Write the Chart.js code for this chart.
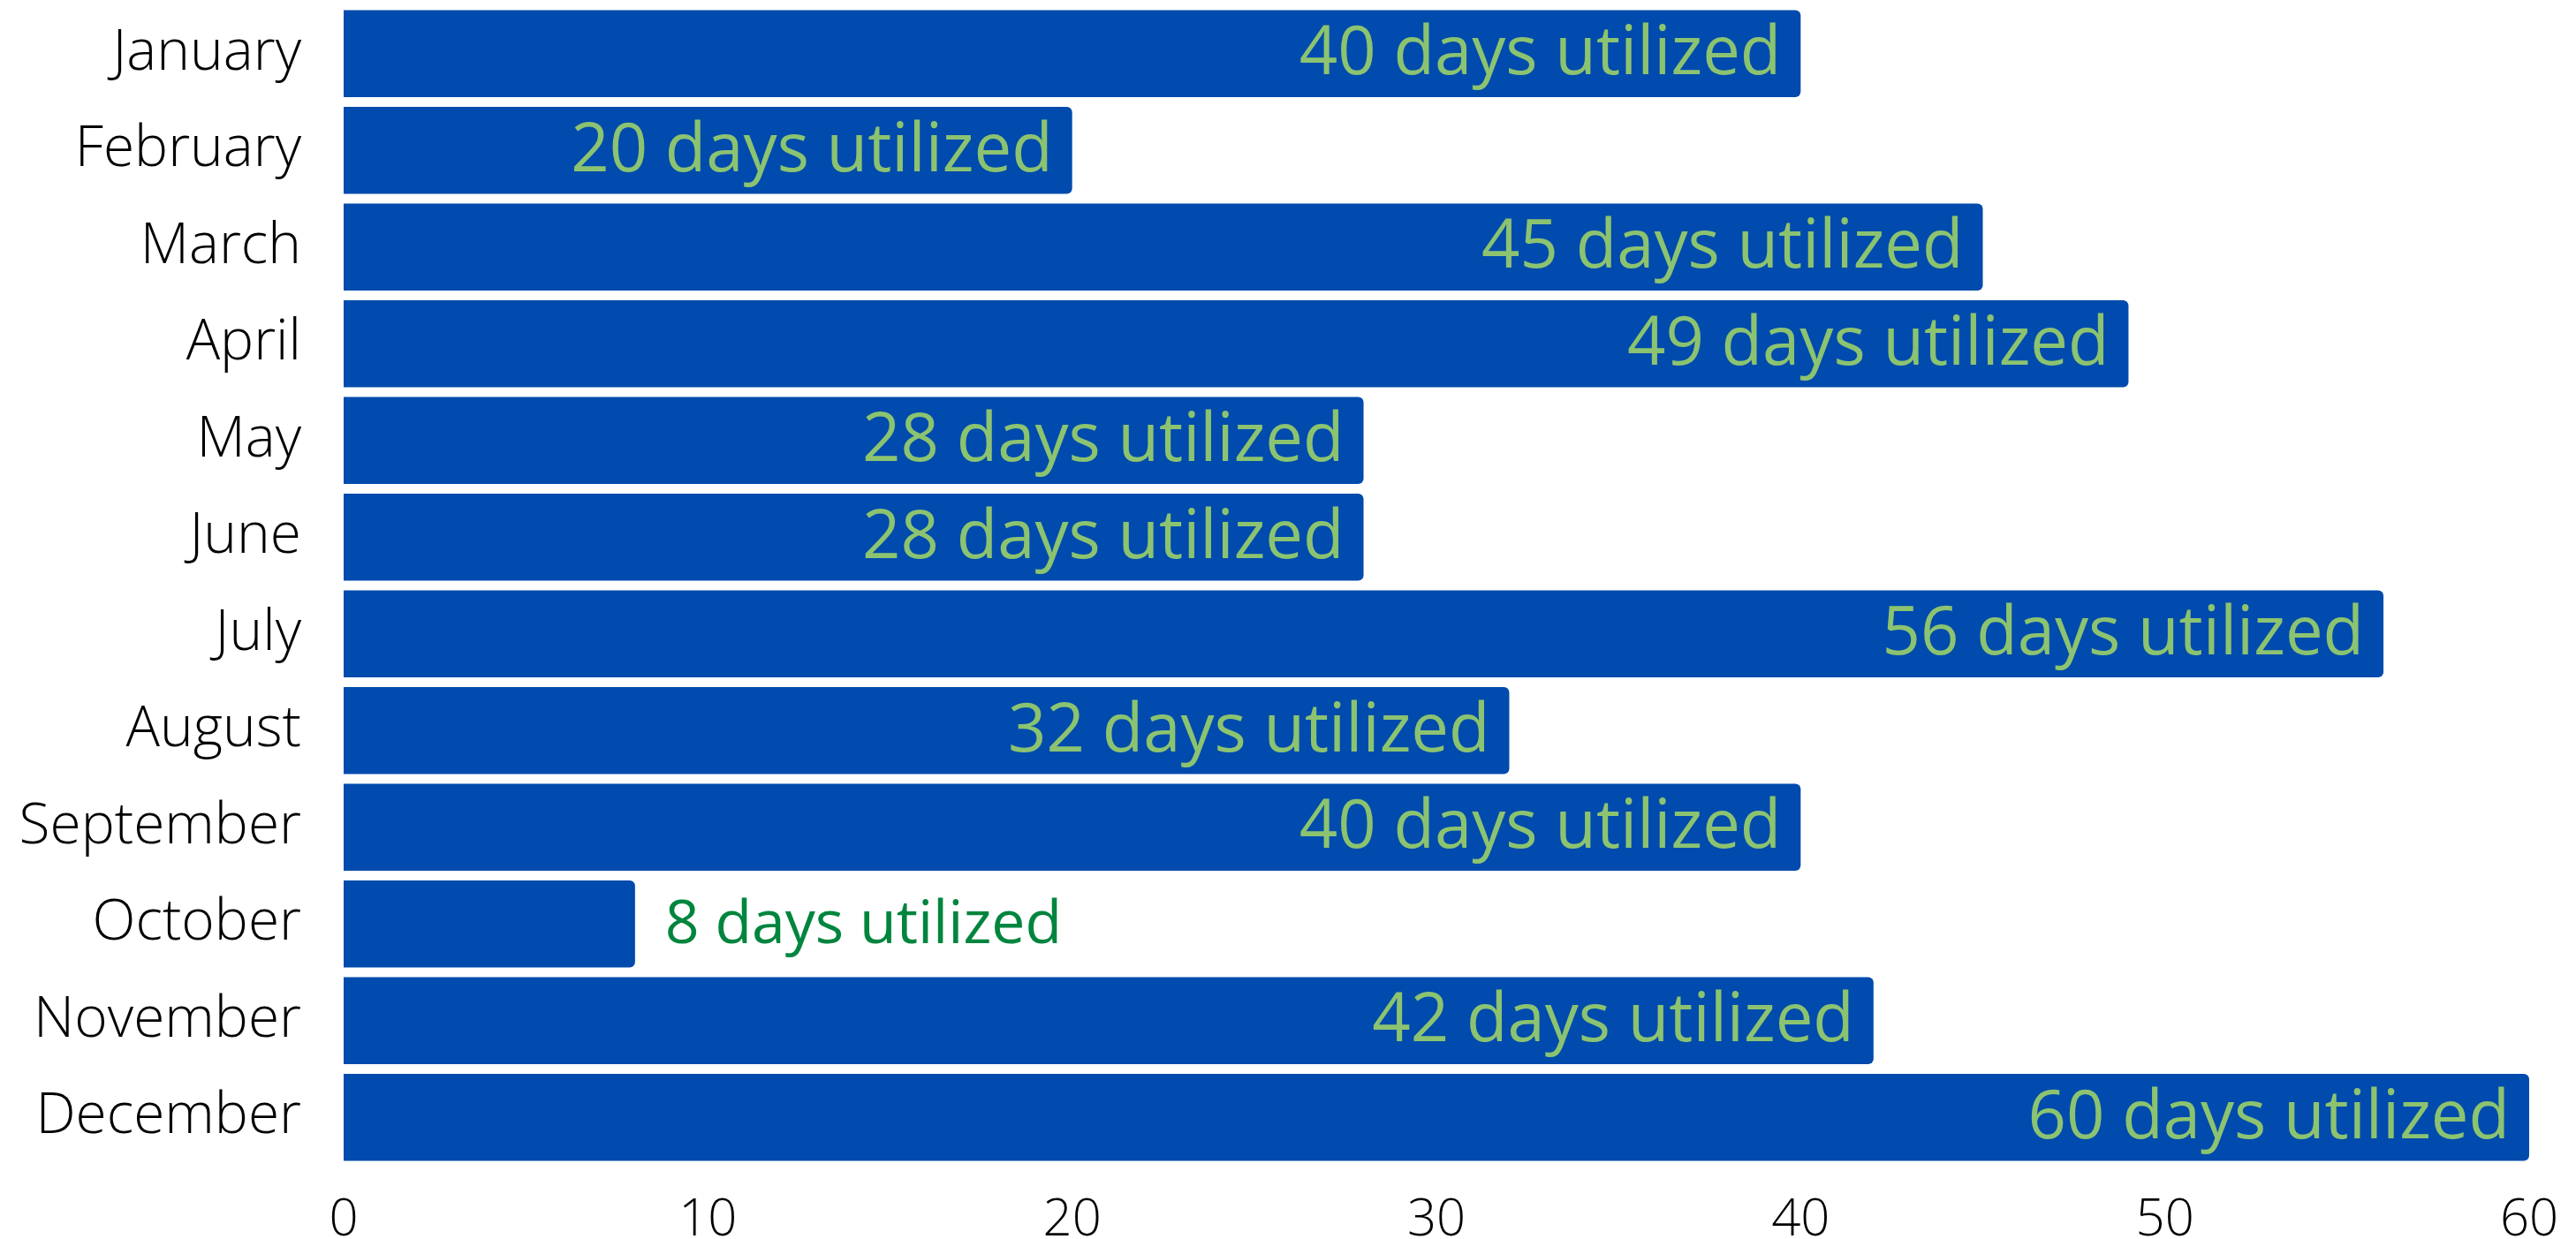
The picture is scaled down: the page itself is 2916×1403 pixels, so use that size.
<!DOCTYPE html>
<html>
<head>
<meta charset="utf-8">
<script src="https://cdn.jsdelivr.net/npm/chart.js@4.4.1/dist/chart.umd.min.js"></script>
<style>
  html, body { margin: 0; padding: 0; background: #fff; }
  #wrap { width: 2916px; height: 1403px; }
</style>
</head>
<body>
<div id="wrap"><canvas id="daysChart" width="2916" height="1403"></canvas></div>
<script>
// data
const months = ['January', 'February', 'March', 'April', 'May', 'June',
  'July', 'August', 'September', 'October', 'November', 'December'];
const daysUsed = [40, 20, 45, 49, 28, 28, 56, 32, 40, 8, 42, 60];
const xTicks = [0, 10, 20, 30, 40, 50, 60];
const labelSuffix = ' days utilized';

// labels inside the bar end, or just past it when the bar is too short
const barLabels = {
  id: 'barLabels',
  afterDatasetsDraw(chart) {
    const ctx = chart.ctx;
    const meta = chart.getDatasetMeta(0);
    ctx.save();
    ctx.textBaseline = 'middle';
    meta.data.forEach((bar, i) => {
      const text = daysUsed[i] + labelSuffix;
      ctx.font = '400 76px "Open Sans"';
      const w = ctx.measureText(text).width;
      if (w + 40 < bar.x - bar.base) {
        ctx.fillStyle = '#8cc370';
        ctx.textAlign = 'right';
        ctx.fillText(text, bar.x - 22, bar.y + 2);
      } else {
        ctx.font = '400 68px "Open Sans"';
        ctx.fillStyle = '#00853e';
        ctx.textAlign = 'left';
        ctx.fillText(text, bar.x + 34, bar.y + 2);
      }
    });
    ctx.restore();
  }
};

new Chart(document.getElementById('daysChart').getContext('2d'), {
  type: 'bar',
  data: {
    labels: months,
    datasets: [{
      data: daysUsed,
      backgroundColor: '#004bad',
      borderWidth: 0,
      borderRadius: 6,
      borderSkipped: 'start',
      barPercentage: 0.9,
      categoryPercentage: 1.0
    }]
  },
  options: {
    indexAxis: 'y',
    responsive: false,
    animation: false,
    layout: {
      padding: { left: 0, right: 53, top: 6, bottom: 0 }
    },
    scales: {
      x: {
        min: 0,
        max: 60,
        afterBuildTicks: axis => { axis.ticks = xTicks.map(v => ({ value: v })); },
        afterFit: axis => {
          axis.height = 83;
          axis.paddingLeft = 0;
          axis.paddingRight = 0;
        },
        grid: { display: false, drawTicks: false },
        border: { display: false },
        ticks: {
          color: '#000',
          padding: 33,
          font: { family: '"Open Sans"', size: 58, weight: '300', lineHeight: 1 }
        }
      },
      y: {
        afterFit: axis => {
          axis.width = 389;
          axis.paddingTop = 0;
          axis.paddingBottom = 0;
        },
        grid: { display: false, drawTicks: false },
        border: { display: false },
        ticks: {
          color: '#000',
          padding: 48,
          font: { family: '"Open Sans"', size: 64, weight: '300' }
        }
      }
    },
    plugins: {
      legend: { display: false },
      tooltip: { enabled: false }
    }
  },
  plugins: [barLabels]
});
</script>
</body>
</html>
